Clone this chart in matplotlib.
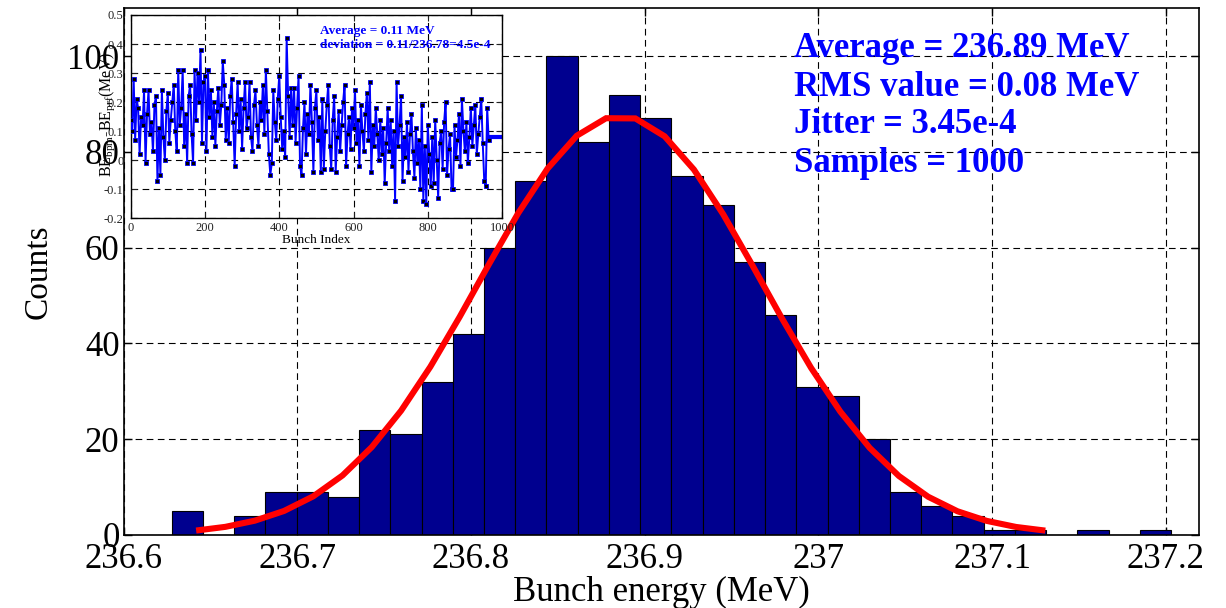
import numpy as np
import matplotlib
matplotlib.use("Agg")
import matplotlib.pyplot as plt
from matplotlib.ticker import FuncFormatter

plt.rcParams['font.family'] = ['Liberation Serif', 'DejaVu Serif']
plt.rcParams['mathtext.fontset'] = 'custom'
plt.rcParams['mathtext.rm'] = 'Liberation Serif'

# ---- histogram of bunch energy ----
bin_start = 236.6277      # left edge of the first bin (MeV)
bin_width = 0.01798       # MeV
counts = [5, 0, 4, 9, 9, 8, 22, 21, 32, 42, 60, 74, 100, 82, 92, 87,
          75, 69, 57, 46, 31, 29, 20, 9, 6, 4, 1, 1, 0, 1, 0, 1]

# gaussian fit parameters
fit_mean = 236.886
fit_sigma = 0.081
fit_peak = 87.5
fit_range = (236.6417, 237.1307)

x_ticks = [236.6, 236.7, 236.8, 236.9, 237.0, 237.1, 237.2]
y_ticks = [0, 20, 40, 60, 80, 100]

stats_lines = ["Average = 236.89 MeV", "RMS value = 0.08 MeV",
               "Jitter = 3.45e-4", "Samples = 1000"]

# ---- per-bunch deviation (inset), every 4th bunch ----
bunch_step = 4
deviation = [
    0.14, 0.10, 0.28, 0.07, 0.21, 0.18, 0.02, 0.15, 0.12, 0.24,
    -0.01, 0.16, 0.24, 0.09, 0.13, 0.03, 0.19, 0.22, -0.07, 0.11,
    -0.05, 0.24, 0.08, 0.00, 0.17, 0.23, 0.06, 0.14, 0.20, 0.26,
    0.10, 0.03, 0.31, 0.12, 0.18, 0.31, 0.05, 0.16, -0.01, 0.22,
    0.26, 0.09, -0.01, 0.31, 0.14, 0.30, 0.20, 0.38, 0.06, 0.27,
    0.29, 0.03, 0.31, 0.15, 0.24, 0.08, 0.20, 0.05, 0.17, 0.25,
    0.12, 0.19, 0.34, 0.26, 0.07, 0.18, 0.06, 0.22, 0.28, 0.13,
    -0.02, 0.16, 0.27, 0.10, 0.21, 0.04, 0.18, 0.27, 0.11, 0.15,
    0.27, 0.08, 0.03, 0.19, 0.24, 0.12, 0.05, 0.20, 0.14, 0.26,
    0.09, 0.31, 0.17, 0.02, -0.05, -0.01, 0.24, 0.13, 0.07, 0.21,
    0.29, 0.15, 0.04, 0.10, 0.01, 0.42, 0.22, 0.08, 0.25, 0.12,
    0.25, 0.06, 0.18, 0.29, -0.02, -0.05, 0.11, 0.20, 0.02, 0.16,
    0.09, 0.26, 0.13, -0.04, 0.18, 0.24, 0.07, 0.15, -0.04, 0.21,
    -0.03, 0.10, 0.19, 0.26, 0.05, -0.03, 0.14, 0.22, -0.04, 0.08,
    0.17, 0.03, 0.12, 0.20, 0.26, -0.02, 0.09, 0.15, 0.04, 0.18,
    0.11, 0.24, 0.06, 0.14, -0.02, 0.19, 0.10, 0.03, 0.16, 0.23,
    0.07, 0.27, -0.04, 0.12, 0.05, 0.18, 0.09, 0.00, 0.14, 0.02,
    0.11, -0.08, 0.06, 0.18, 0.03, 0.14, -0.02, 0.10, -0.14, 0.27,
    0.05, 0.12, 0.22, -0.07, 0.08, 0.01, 0.13, -0.04, 0.09, 0.16,
    0.03, -0.06, 0.11, -0.01, 0.07, -0.10, 0.19, -0.14, 0.05, -0.15,
    0.12, 0.02, -0.09, 0.08, -0.08, 0.14, 0.00, -0.13, 0.06, 0.10,
    -0.03, 0.13, 0.20, -0.05, 0.04, 0.09, -0.10, -0.10, 0.12, 0.01,
    0.07, 0.16, -0.02, 0.21, 0.10, 0.03, 0.13, -0.01, 0.08, 0.18,
    0.05, 0.12, 0.19, 0.02, 0.09, 0.15, 0.21, 0.06, -0.07, -0.09,
    0.18, 0.07,
]
tail_x = [966, 1010]
tail_y = [0.08, 0.08]
inset_x_ticks = [0, 200, 400, 600, 800, 1000]
inset_y_ticks = [-0.2, -0.1, 0, 0.1, 0.2, 0.3, 0.4, 0.5]

# ---------------------------------------------------------------
fig = plt.figure(figsize=(12.26, 6.08), dpi=100)
ax = fig.add_axes([0.1009, 0.1201, 0.8768, 0.8662])

edges = bin_start + bin_width * np.arange(len(counts) + 1)
ax.bar(edges[:-1], counts, width=bin_width, align='edge',
       color='#00008F', edgecolor='black', linewidth=0.8, zorder=2)

xf = np.linspace(fit_range[0], fit_range[1], 30)
yf = fit_peak * np.exp(-(xf - fit_mean) ** 2 / (2 * fit_sigma ** 2))
ax.plot(xf, yf, color='red', linewidth=4.4, zorder=3,
        solid_joinstyle='miter', solid_capstyle='butt')

ax.set_xlim(236.6, 237.219)
ax.set_ylim(0, 110)
ax.set_xticks(x_ticks)
ax.set_yticks(y_ticks)
ax.xaxis.set_major_formatter(FuncFormatter(lambda v, p: f"{v:g}"))
ax.grid(True, color='black', linestyle=(0, (6, 4)), linewidth=0.8, zorder=0)
ax.set_axisbelow(True)
ax.tick_params(direction='in', length=6, width=1, top=True, right=True,
               labelsize=25)
ax.tick_params(axis='x', pad=6)
ax.tick_params(axis='y', pad=3)
for s in ax.spines.values():
    s.set_linewidth(1.2)
ax.set_xlabel("Bunch energy (MeV)", fontsize=25, labelpad=0)
ax.set_ylabel("Counts", fontsize=24, labelpad=10)

stat_y = [0.9075, 0.8335, 0.7633, 0.689]
for txt, yy in zip(stats_lines, stat_y):
    ax.text(0.6235, yy, txt, transform=ax.transAxes, color='#0000FF',
            fontsize=25, fontweight='bold', va='baseline', ha='left', zorder=5)

# ---- inset ----
axi = fig.add_axes([0.1066, 0.641, 0.3029, 0.3344])
bx = np.arange(len(deviation)) * bunch_step
axi.plot(tail_x, tail_y, color='#0000FF', linewidth=3, zorder=2)
axi.plot(bx, deviation, color='#0000FF', linewidth=1.4, marker='s',
         markersize=3.5, markerfacecolor='black', markeredgecolor='#0000FF',
         markeredgewidth=0.6, zorder=3)
axi.set_xlim(0, 1000)
axi.set_ylim(-0.2, 0.5)
axi.set_xticks(inset_x_ticks)
axi.set_yticks(inset_y_ticks)
axi.yaxis.set_major_formatter(FuncFormatter(lambda v, p: f"{v:g}"))
axi.grid(True, color='black', linestyle=(0, (6, 4)), linewidth=0.8)
axi.set_axisbelow(True)
axi.tick_params(direction='in', length=4, width=0.8, top=True, right=True,
                labelsize=9, colors='#222222')
axi.tick_params(axis='y', pad=5)
axi.tick_params(axis='x', pad=3)
for s in axi.spines.values():
    s.set_linewidth(1.0)
axi.set_xlabel("Bunch Index", fontsize=9.5, labelpad=0)
axi.set_ylabel(r"BE$_{\rm bpm}$-BE$_{\rm prf}$(MeV)", fontsize=11.5)
axi.yaxis.set_label_coords(-0.037, 0.51)
axi.text(0.51, 0.905, "Average = 0.11 MeV", transform=axi.transAxes,
         color='#0000FF', fontsize=9.5, fontweight='bold', va='baseline')
axi.text(0.51, 0.836, "deviation = 0.11/236.78=4.5e-4", transform=axi.transAxes,
         color='#0000FF', fontsize=9.5, fontweight='bold', va='baseline')

fig.savefig("out.png", dpi=100)
